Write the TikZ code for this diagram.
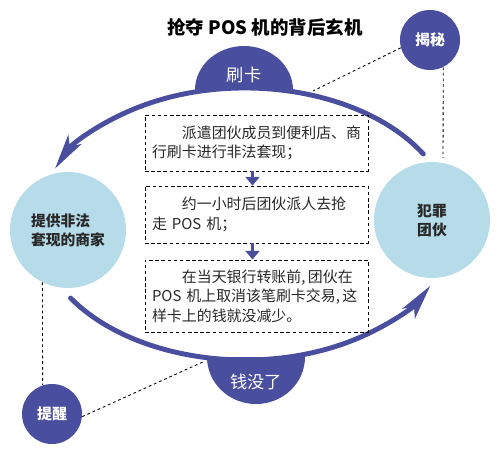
\documentclass[tikz,border=0pt]{standalone}
\usepackage{fontspec}
\setmainfont{Noto Sans CJK SC}
\usepackage{tikz}
\usetikzlibrary{arrows.meta}
\definecolor{posblue}{RGB}{74,78,158}
\definecolor{poslight}{RGB}{182,219,233}
\definecolor{postext}{RGB}{40,40,40}

\begin{document}
\begin{tikzpicture}[x=0.02cm,y=0.02cm,
  ring/.style={draw=posblue,line width=2.8pt,line cap=round},
  spot/.style={circle,fill=posblue,minimum size=1.2cm,inner sep=0pt,text=white,
    font=\bfseries\fontsize{8.5}{10}\selectfont},
  party/.style={circle,fill=poslight,minimum size=2.32cm,inner sep=0pt,align=left,
    text=postext,font=\bfseries\fontsize{8.4}{10.8}\selectfont},
  stepbox/.style={draw=black,dash pattern=on 2pt off 1.5pt,line width=0.5pt,
    text width=4.18cm,inner sep=4pt,align=left,text=postext,
    font=\fontsize{8.5}{11.2}\selectfont},
  hint/.style={black,line width=0.5pt,dash pattern=on 1.6pt off 1.6pt},
  down/.style={posblue,line width=2pt,-{Triangle[length=5pt,width=8pt]}},
  domelabel/.style={text=white,font=\fontsize{9.8}{11}\selectfont}]
  \useasboundingbox (0,0) rectangle (500,450);
  \coordinate (ring) at (245,226);

  % the cycle
  \fill[posblue] (195,360) arc[start angle=180,end angle=0,x radius=49,y radius=44] -- cycle;
  \fill[posblue] (207,93) arc[start angle=180,end angle=360,x radius=49,y radius=47] -- cycle;
  \draw[ring,-{Stealth[length=20pt,width=9pt,inset=5pt]}] ([shift={(31:208 and 136)}]ring)
    arc[start angle=31,end angle=156,x radius=208,y radius=136];
  \draw[ring,-{Stealth[length=20pt,width=9pt,inset=5pt]}] ([shift={(213:208 and 136)}]ring)
    arc[start angle=213,end angle=333,x radius=208,y radius=136];
  \node[domelabel] (swipe) at (244,375) {刷卡};
  \node[domelabel] (gone) at (256,68) {钱没了};

  \node[party] (shop) at (68,220) {提供非法\\套现的商家};
  \node[party] (gang) at (432,230) {犯罪\\团伙};

  \node[font=\bfseries\fontsize{10.5}{12}\selectfont] (title) at (265,423) {抢夺 POS 机的背后玄机};
  \node[spot] (reveal) at (430,410) {揭秘};
  \node[spot] (warn) at (52,36) {提醒};

  % steps
  \node[stepbox,minimum height=1.12cm] (s1) at (256.5,307)
    {\hspace*{2em}派遣团伙成员到便利店、商\\行刷卡进行非法套现；};
  \node[stepbox,minimum height=1.14cm] (s2) at (256.5,235.5)
    {\hspace*{2em}约一小时后团伙派人去抢\\走 POS 机；};
  \node[stepbox,minimum height=1.44cm] (s3) at (256.5,154)
    {\hspace*{2em}\mbox{在当天银行转账前,\,团伙在}\\\mbox{POS 机上取消该笔刷卡交易,\,这}\\样卡上的钱就没减少。};
  \draw[down] ([xshift=-0.08cm]s1.south) -- ([xshift=-0.08cm]s2.north);
  \draw[down] ([xshift=-0.08cm]s2.south) -- ([xshift=-0.08cm]s3.north);

  % hints
  \coordinate (topend) at (313,359);
  \coordinate (sideend) at (443,292);
  \coordinate (lowend) at (205,89);
  \draw[hint] (reveal.195) -- (topend);
  \draw[hint] (reveal.-64) -- (sideend);
  \draw[hint] (shop.244) -- (warn.108);
  \draw[hint] (warn.-5) -- (lowend);
\end{tikzpicture}
\end{document}
